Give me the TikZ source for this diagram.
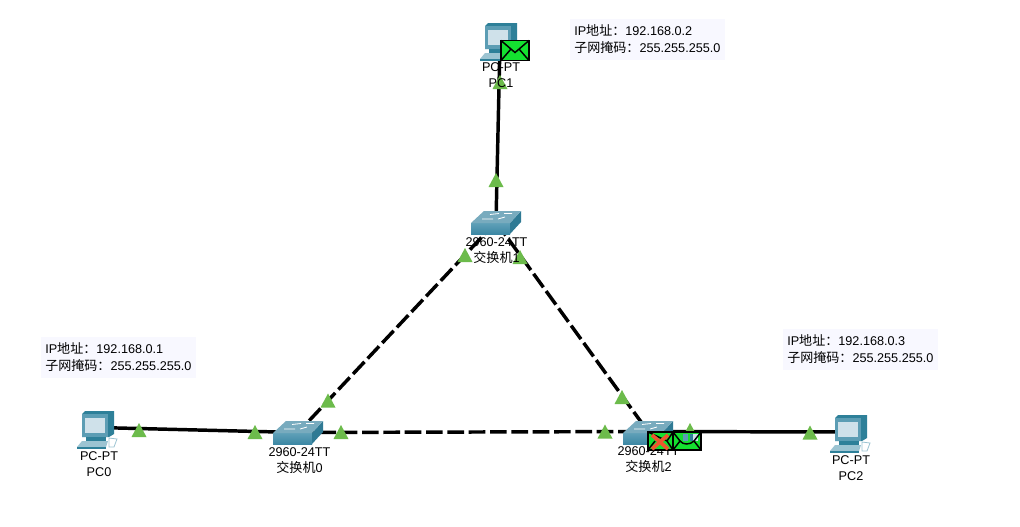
\documentclass[tikz,border=0pt]{standalone}
\usepackage{fontspec}
\setmainfont{Liberation Sans}
\newfontfamily\cjk[Scale=1.03]{Noto Sans CJK SC}
\definecolor{infobg}{HTML}{F8F8FF}
\definecolor{trigreen}{HTML}{6CBB4B}
\definecolor{envgreen}{HTML}{14E030}
\definecolor{xred}{HTML}{F0552D}
\definecolor{pcdark}{HTML}{2E8099}
\definecolor{pcmid}{HTML}{5C9DB4}
\definecolor{pcscreen}{HTML}{CFE1EA}
\definecolor{pclight}{HTML}{9CC4D2}
\definecolor{swfronta}{HTML}{5FA0B8}
\definecolor{swfrontb}{HTML}{3D88A4}
\definecolor{swside}{HTML}{2F7A94}
\definecolor{swtop}{HTML}{78ABBE}
\tikzset{
  x=0.75pt,y=-0.75pt,
  solidlink/.style={line width=2.6pt,black},
  dashlink/.style={line width=2.6pt,black,dash pattern=on 12.5pt off 3.5pt},
  devlabel/.style={align=center,font=\fontsize{9.5}{12}\selectfont,inner sep=0pt,text=black},
  infobox/.style={fill=infobg,align=left,font=\fontsize{9.5}{12.7}\selectfont,inner sep=0pt,text=black,anchor=north west,minimum width=116pt,text width=115pt,text height=8.2pt,minimum height=31pt},
  tri/.pic={\fill[trigreen] (-7.5,7)--(0,-7)--(7.5,7)--cycle;},
  envbody/.style={fill=envgreen,draw=black,line width=1.4pt},
  envline/.style={black,line width=1.1pt},
  envmail/.pic={
    \draw[envbody] (-14,-10) rectangle (14,10);
    \draw[envline] (-14,-10)--(0,2)--(14,-10);
    \draw[envline] (-14,10)--(-4,-1.5) (14,10)--(4,-1.5);
  },
  pcicon/.pic={
    \fill[pcdark] (-14,-16)--(-11,-19)--(18,-19)--(18,4)--(13,7)--(-14,7)--cycle;
    \fill[pcmid] (-14,-16)--(12,-16)--(12,7)--(-14,7)--cycle;
    \fill[pcscreen] (-11,-12)--(9,-12)--(9,3)--(-11,3)--cycle;
    \fill[pcdark] (-10,7)--(10,7)--(10,11)--(-10,11)--cycle;
    \fill[pclight] (-19,17)--(-14,11)--(12,11)--(10,17)--cycle;
    \fill[pcdark] (-19,17) rectangle (10,18.5);
    \draw[pclight,line width=0.6pt] (13,8)--(21,9)--(18,17)--(13,17)--cycle;
  },
  swicon/.pic={
    \shade[top color=swfronta,bottom color=swfrontb] (-25,1)--(14,1)--(14,12)--(-25,12)--cycle;
    \fill[swside] (14,1)--(25,-11)--(25,0)--(14,12)--cycle;
    \fill[swtop] (-25,1)--(-12,-11)--(25,-11)--(14,1)--cycle;
    \draw[white,line width=0.6pt] (-6,-7.5)--(3,-8.5) (8,-8.5)--(16,-8.5) (-14,-3)--(-3,-3) (2,-3)--(9,-5);
  },
}
\begin{document}
\begin{tikzpicture}
\path[fill=white,use as bounding box] (0,0) rectangle (1020,526);
% device centres
\coordinate (pc0) at (98,427.5);
\coordinate (pc1) at (500,42);
\coordinate (pc2) at (849,432);
\coordinate (sw0) at (298,432.5);
\coordinate (sw1) at (496,222);
\coordinate (sw2) at (648,431.5);
% links
\draw[solidlink] (pc0) -- (sw0);
\draw[solidlink] (pc1) -- (sw1);
\draw[solidlink] (sw2) -- (pc2);
\draw[dashlink] (sw1) -- (sw0);
\draw[dashlink] (sw1) -- (sw2);
\draw[dashlink] (sw0) -- (sw2);
% link lights
\foreach \p in {(139,430),(255,432),(328,400.5),(341,432),(465,255),(520,257),(622,397),(605,431.5),(690,430),(810,432.5),(496,180),(500,82)}
  \pic at \p {tri};
% devices
\pic at (96,430) {pcicon};
\pic at (499,42) {pcicon};
\pic at (849,434) {pcicon};
\pic at (298,432) {swicon};
\pic at (496,222) {swicon};
\pic at (648,432) {swicon};
% device labels
\node[devlabel] (lpc0) at (99,464) {PC-PT\\PC0};
\node[devlabel] (lpc1) at (501,75.5) {PC-PT\\PC1};
\node[devlabel] (lpc2) at (851,468) {PC-PT\\PC2};
\node[devlabel] (lsw0) at (299.5,460.5) {2960-24TT\\{\cjk 交换机}0};
\node[devlabel] (lsw1) at (496.5,251) {2960-24TT\\{\cjk 交换机}1};
\node[devlabel] (lsw2) at (648.5,460) {2960-24TT\\{\cjk 交换机}2};
% info notes
\node[infobox] (n1) at (570,18.5) {\hspace*{2.5pt}IP{\cjk 地址：}192.168.0.2\\\hspace*{2.5pt}{\cjk 子网掩码：}255.255.255.0};
\node[infobox] (n0) at (41,336.5) {\hspace*{2.5pt}IP{\cjk 地址：}192.168.0.1\\\hspace*{2.5pt}{\cjk 子网掩码：}255.255.255.0};
\node[infobox] (n2) at (783,328.5) {\hspace*{2.5pt}IP{\cjk 地址：}192.168.0.3\\\hspace*{2.5pt}{\cjk 子网掩码：}255.255.255.0};
% PDUs
\pic at (515,50.5) {envmail};
\draw[envbody] (648,432) rectangle (673,450);
\draw[envline] (648,432)--(667,441)--(673,432) (667,441)--(673,450) (648,450)--(655,441);
\draw[xred,line width=2.8pt] (652,435)--(668,449) (668,435)--(652,449);
\draw[envbody] (673,432) rectangle (701,450);
\fill[pcmid] (683,433.5) rectangle (688,441);
\fill[pcdark] (690,433.5) rectangle (693,441);
\fill[pcscreen] (693,433.5) rectangle (698,441);
\draw[envline] (673,432)--(680,441)--(673,450);
\draw[envline] (680,441) .. controls (683,445) and (690,445) .. (694,441)--(701,432);
\draw[envline] (694,441)--(701,450);
\end{tikzpicture}
\end{document}
